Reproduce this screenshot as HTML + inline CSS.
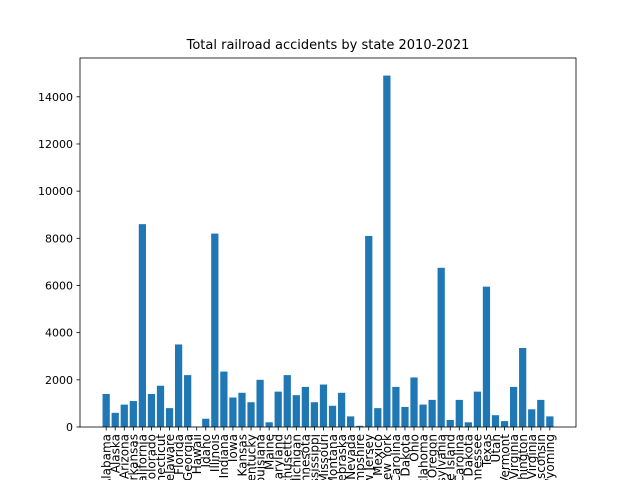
<!DOCTYPE html>
<html><head><meta charset="utf-8"><style>html,body{margin:0;background:#fff;overflow:hidden;width:640px;height:480px}svg{display:block}text{font-family:"DejaVu Sans","Liberation Sans",sans-serif}</style></head>
<body>
<svg id="chart" width="640" height="480" style="overflow:hidden"></svg>
<script>
const categories=["Alabama","Alaska","Arizona","Arkansas","California","Colorado","Connecticut","Delaware","Florida","Georgia","Hawaii","Idaho","Illinois","Indiana","Iowa","Kansas","Kentucky","Louisiana","Maine","Maryland","Massachusetts","Michigan","Minnesota","Mississippi","Missouri","Montana","Nebraska","Nevada","New Hampshire","New Jersey","New Mexico","New York","North Carolina","North Dakota","Ohio","Oklahoma","Oregon","Pennsylvania","Rhode Island","South Carolina","South Dakota","Tennessee","Texas","Utah","Vermont","Virginia","Washington","West Virginia","Wisconsin","Wyoming"];
const values=[1400,600,950,1100,8600,1400,1750,800,3500,2200,10,350,8200,2350,1250,1450,1050,2000,200,1500,2200,1350,1700,1050,1800,900,1450,450,50,8100,800,14900,1700,850,2100,950,1150,6750,300,1150,200,1500,5950,500,250,1700,3350,750,1150,450];
const yTicks=[0,2000,4000,6000,8000,10000,12000,14000];
const NS="http://www.w3.org/2000/svg";
const svg=document.getElementById('chart');
const L=80,R=576,T=58,B=427;
const n=categories.length;
const ymax=Math.max(...values)*1.05;
const xmin=-0.4-(n-1+0.8)*0.05, xmax=n-1+0.4+(n-1+0.8)*0.05;
const xs=v=>L+(v-xmin)/(xmax-xmin)*(R-L);
const ys=v=>B-v/ymax*(B-T);
function mk(tag,attrs){const e=document.createElementNS(NS,tag);for(const k in attrs)e.setAttribute(k,attrs[k]);svg.appendChild(e);return e;}
const bw=(xs(0.8)-xs(0));
values.forEach((v,i)=>{
  const r=mk('rect',{x:xs(i)-bw/2,y:ys(v),width:bw,height:B-ys(v),fill:'#1f77b4'});
  
  
  mk('line',{x1:xs(i),x2:xs(i),y1:B,y2:B+3.5,stroke:'#000','stroke-width':0.8});
  const t=mk('text',{x:0,y:0,'font-size':'12','text-anchor':'end',transform:`translate(${xs(i)+4.3},${B+7}) rotate(-90)`});
  t.textContent=categories[i];
  
  
});
yTicks.forEach(v=>{
  mk('line',{x1:L-3.5,x2:L,y1:ys(v),y2:ys(v),stroke:'#000','stroke-width':0.8});
  const t=mk('text',{x:L-7,y:ys(v)+4,'font-size':'11','text-anchor':'end'});
  t.textContent=v;
  
  
});
const fr=mk('rect',{x:L,y:T,width:R-L,height:B-T,fill:'none',stroke:'#000','stroke-width':0.8});


const title=mk('text',{x:(L+R)/2,y:49,'font-size':'13','text-anchor':'middle'});
title.textContent='Total railroad accidents by state 2010-2021';


</script>
</body></html>
